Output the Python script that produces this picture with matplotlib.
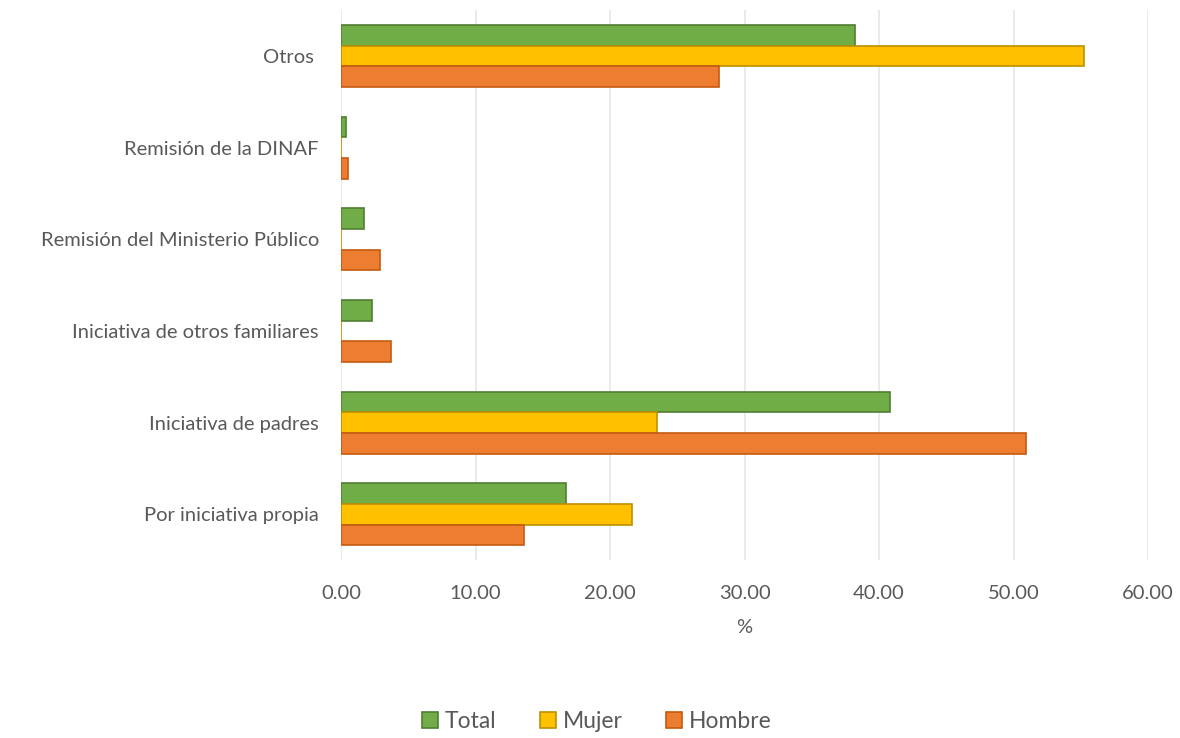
import numpy as np
import matplotlib.pyplot as plt

plt.rcParams['font.family'] = ['Lato', 'DejaVu Sans']

categorias = ['Por iniciativa propia', 'Iniciativa de padres', 'Iniciativa de otros familiares',
              'Remisión del Ministerio Público', 'Remisión de la DINAF', 'Otros ']
total = [16.7, 40.8, 2.3, 1.7, 0.35, 38.2]
mujer = [21.6, 23.5, 0.0, 0.0, 0.0, 55.2]
hombre = [13.6, 50.9, 3.7, 2.9, 0.5, 28.1]

gris = '#595959'
fig = plt.figure(figsize=(11.8, 7.38), dpi=100)
ax = fig.add_axes([0.289, 0.241, 0.684, 0.745])

y = np.arange(len(categorias))
h = 0.225
ax.barh(y + h, total, height=h, color='#70AD47', edgecolor='#507E32', linewidth=1.2, label='Total', zorder=3)
ax.barh(y, mujer, height=h, color='#FFC000', edgecolor='#BF9000', linewidth=1.2, label='Mujer', zorder=3)
ax.barh(y - h, hombre, height=h, color='#ED7D31', edgecolor='#C55A11', linewidth=1.2, label='Hombre', zorder=3)

ax.set_xlim(0, 60)
ax.set_ylim(-0.5, len(categorias) - 0.5)
ax.set_xticks(np.arange(0, 61, 10))
ax.set_xticklabels(['{:.2f}'.format(v) for v in np.arange(0, 61, 10)])
ax.set_yticks(y)
ax.set_yticklabels(categorias)
ax.tick_params(axis='both', length=0, colors=gris, labelsize=14.5)
ax.tick_params(axis='x', pad=18)
ax.tick_params(axis='y', pad=16)
ax.grid(axis='x', color='#E6E6E6', linewidth=1.2, zorder=0)
for s in ax.spines.values():
    s.set_visible(False)
ax.set_xlabel('%', color=gris, fontsize=14.5, labelpad=12)

fig.legend(loc='center', bbox_to_anchor=(0.506, 0.022), ncol=3, frameon=False,
           fontsize=16.5, labelcolor=gris, handlelength=0.7, handleheight=0.7,
           handletextpad=0.3, columnspacing=1.9)

plt.savefig('out.png')
